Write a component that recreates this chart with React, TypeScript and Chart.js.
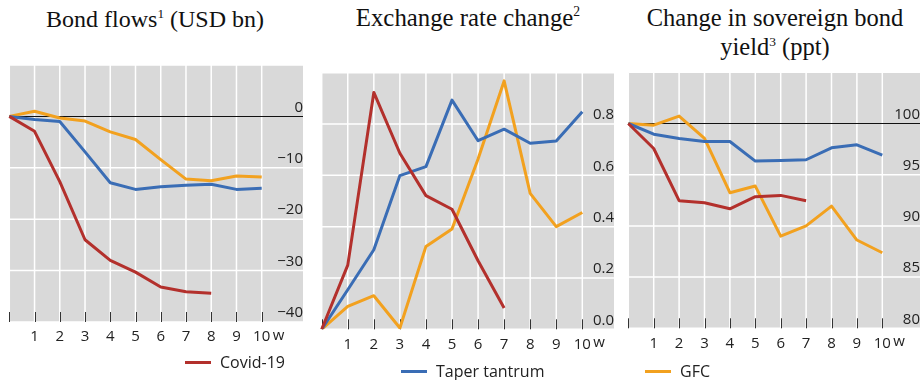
import React, { useEffect, useRef } from 'react';
import { Chart, registerables } from 'chart.js';

Chart.register(...registerables);

// ---------- data ----------
const weeks = ['0', '1', '2', '3', '4', '5', '6', '7', '8', '9', '10'];
const weekUnit = 'w';

const seriesNames = ['Covid-19', 'Taper tantrum', 'GFC'];

// Bond flows (USD bn)
const bondCovid = [0, -2.9, -12.7, -24.0, -28.0, -30.3, -33.2, -34.1, -34.4];
const bondTaper = [0, -0.6, -1.0, -6.9, -12.9, -14.2, -13.7, -13.4, -13.2, -14.2, -14.0];
const bondGfc = [0, 1.0, -0.3, -0.9, -3.0, -4.5, -8.4, -12.2, -12.5, -11.6, -11.8];

// Exchange rate change
const fxCovid = [0, 0.25, 0.923, 0.686, 0.521, 0.468, 0.267, 0.083];
const fxTaper = [0, 0.154, 0.31, 0.599, 0.634, 0.893, 0.735, 0.78, 0.725, 0.734, 0.848];
const fxGfc = [0, 0.089, 0.131, 0.005, 0.323, 0.391, 0.664, 0.968, 0.53, 0.4, 0.455];

// Change in sovereign bond yield
const yieldCovid = [100, 97.56, 92.46, 92.26, 91.67, 92.85, 92.98, 92.46];
const yieldTaper = [100, 98.96, 98.54, 98.24, 98.24, 96.33, 96.39, 96.46, 97.63, 97.92, 96.91];
const yieldGfc = [100, 99.84, 100.72, 98.54, 93.24, 93.89, 89.0, 90.0, 91.93, 88.62, 87.38];

// y axes: [min, max, step, reference line]
const bondAxis = [-40, 10, 10, 0];
const fxAxis = [0, 1, 0.2, null];
const yieldAxis = [80, 105, 5, 100];

// ---------- styles ----------
const COLORS = ['#b3302c', '#3a6db5', '#f2a11f'];
const TICK_FONT = '"Open Sans", "Noto Sans", sans-serif';
const TEXT = '#222222';

const panelPlugin = {
  id: 'panelBg',
  beforeDraw(chart: any, _args: any, opts: any) {
    const { ctx, chartArea } = chart;
    const xs = chart.scales.x;
    const ys = chart.scales.y;
    const left = chartArea.left;
    const top = chartArea.top;
    const bottom = chartArea.bottom;
    const right = ys.right;
    ctx.save();
    ctx.fillStyle = '#d9d9d9';
    ctx.fillRect(left, top, right - left, bottom - top);
    ctx.strokeStyle = '#ffffff';
    ctx.lineWidth = 1.5;
    ctx.beginPath();
    for (let i = 0; i < xs.ticks.length; i++) {
      const px = xs.getPixelForTick(i);
      ctx.moveTo(px, top);
      ctx.lineTo(px, bottom);
    }
    ys.ticks.forEach((t: any) => {
      if (opts.zero !== null && Math.abs(t.value - opts.zero) < 1e-9) return;
      const py = ys.getPixelForValue(t.value);
      ctx.moveTo(left, py);
      ctx.lineTo(right, py);
    });
    ctx.stroke();
    if (opts.zero !== null) {
      const pz = Math.round(ys.getPixelForValue(opts.zero)) + 0.5;
      ctx.strokeStyle = '#111111';
      ctx.lineWidth = 1.2;
      ctx.beginPath();
      ctx.moveTo(left, pz);
      ctx.lineTo(right, pz);
      ctx.stroke();
    }
    ctx.strokeStyle = '#333333';
    ctx.lineWidth = 1;
    ctx.beginPath();
    for (let i = 0; i < xs.ticks.length; i++) {
      const px = Math.round(xs.getPixelForTick(i)) + 0.5;
      ctx.moveTo(px, bottom - 10);
      ctx.lineTo(px, bottom);
    }
    ctx.stroke();
    ctx.restore();
  },
  afterDraw(chart: any, _args: any, opts: any) {
    const { ctx } = chart;
    const xs = chart.scales.x;
    const px = xs.getPixelForTick(xs.ticks.length - 1);
    ctx.save();
    ctx.font = `15px ${TICK_FONT}`;
    ctx.fillStyle = TEXT;
    ctx.textAlign = 'left';
    ctx.textBaseline = 'top';
    ctx.fillText(opts.unit, px + 11, xs.top + opts.xPad);
    ctx.restore();
  },
};

type PanelProps = {
  left: number;
  top: number;
  width: number;
  height: number;
  padLeft: number;
  padTop: number;
  padRight: number;
  yWidth: number;
  xHeight: number;
  yPad: number;
  xPad: number;
  axis: (number | null)[];
  decimals: number;
  series: number[][];
};

function fmt(v: number, decimals: number) {
  const s = Math.abs(v).toFixed(decimals);
  return v < -1e-9 ? '\u2212' + s : s;
}

function zeroPad(s: any) {
  s.paddingTop = 0;
  s.paddingBottom = 0;
  s.paddingLeft = 0;
  s.paddingRight = 0;
}

function Panel(p: PanelProps) {
  const ref = useRef<HTMLCanvasElement | null>(null);
  useEffect(() => {
    if (!ref.current) return;
    const [min, max, step, zero] = p.axis as number[];
    const chart = new Chart(ref.current, {
      type: 'line',
      data: {
        labels: weeks,
        datasets: p.series.map((s, i) => ({
          label: seriesNames[i],
          data: s,
          borderColor: COLORS[i],
          backgroundColor: COLORS[i],
          borderWidth: 3,
          pointRadius: 0,
          tension: 0,
          fill: false,
          borderJoinStyle: 'round' as const,
          borderCapStyle: 'butt' as const,
        })),
      },
      options: {
        animation: false,
        responsive: false,
        maintainAspectRatio: false,
        events: [],
        layout: { padding: { left: p.padLeft, top: p.padTop, right: p.padRight, bottom: 0 } },
        plugins: {
          legend: { display: false },
          tooltip: { enabled: false },
          panelBg: { zero: zero === undefined ? null : zero, unit: weekUnit, xPad: p.xPad },
        } as any,
        scales: {
          x: {
            type: 'category',
            offset: false,
            grid: { display: false, drawTicks: false },
            border: { display: false },
            ticks: {
              autoSkip: false,
              maxRotation: 0,
              padding: p.xPad,
              color: TEXT,
              font: { family: TICK_FONT, size: 15 },
              callback: (_v: any, i: number) => (i === 0 ? '' : weeks[i]),
            },
            afterFit: (s: any) => {
              s.height = p.xHeight;
              zeroPad(s);
            },
          },
          y: {
            type: 'linear',
            position: 'right',
            min,
            max,
            grid: { display: false, drawTicks: false },
            border: { display: false },
            ticks: {
              stepSize: step,
              crossAlign: 'far',
              padding: p.yPad,
              labelOffset: -9,
              color: TEXT,
              font: { family: TICK_FONT, size: 15 },
              callback: (v: any) => (Math.abs(Number(v) - max) < 1e-9 ? '' : fmt(Number(v), p.decimals)),
            },
            afterFit: (s: any) => {
              s.width = p.yWidth;
              zeroPad(s);
            },
          },
        },
      },
      plugins: [panelPlugin],
    });
    return () => chart.destroy();
  }, []);
  return (
    <canvas
      ref={ref}
      width={p.width}
      height={p.height}
      style={{ position: 'absolute', left: p.left, top: p.top, width: p.width, height: p.height }}
    />
  );
}

const titleStyle: React.CSSProperties = {
  position: 'absolute',
  width: 320,
  textAlign: 'center',
  fontFamily: '"Liberation Serif", "Times New Roman", serif',
  fontSize: 24,
  lineHeight: '29px',
  color: '#111',
  whiteSpace: 'nowrap',
};

const supStyle: React.CSSProperties = {
  fontSize: '0.55em',
  position: 'relative',
  top: '-0.7em',
};

function LegendItem(props: { x: number; y: number; color: string; label: string }) {
  return (
    <div
      style={{
        position: 'absolute',
        left: props.x,
        top: props.y - 12,
        height: 24,
        display: 'flex',
        alignItems: 'center',
        fontFamily: TICK_FONT,
        fontSize: 16,
        color: TEXT,
        whiteSpace: 'nowrap',
      }}
    >
      <span style={{ display: 'inline-block', width: 26, height: 3, background: props.color, marginRight: 9 }} />
      <span>{props.label}</span>
    </div>
  );
}

export default function App() {
  return (
    <div style={{ position: 'absolute', left: 0, top: 0, width: 923, height: 380, background: '#fff', overflow: 'hidden' }}>
      <div style={{ ...titleStyle, left: 155 - 160, top: 5 }}>
        Bond flows<span style={supStyle}>1</span> (USD bn)
      </div>
      <div style={{ ...titleStyle, left: 468 - 160, top: 3, fontSize: 24.8 }}>
        Exchange rate change<span style={supStyle}>2</span>
      </div>
      <div style={{ ...titleStyle, left: 775 - 160, top: 3, fontSize: 24.5 }}>
        Change in sovereign bond
        <br />
        yield<span style={supStyle}>3</span> (ppt)
      </div>

      <Panel
        left={0}
        top={55}
        width={312}
        height={300}
        padLeft={9.3}
        padTop={10}
        padRight={9}
        yWidth={41.3}
        xHeight={33}
        yPad={12}
        xPad={6}
        axis={bondAxis}
        decimals={0}
        series={[bondCovid, bondTaper, bondGfc]}
      />
      <Panel
        left={312}
        top={55}
        width={308}
        height={300}
        padLeft={9.7}
        padTop={17.7}
        padRight={6}
        yWidth={31.7}
        xHeight={25.7}
        yPad={6.5}
        xPad={6}
        axis={fxAxis}
        decimals={1}
        series={[fxCovid, fxTaper, fxGfc]}
      />
      <Panel
        left={620}
        top={55}
        width={303}
        height={300}
        padLeft={8.3}
        padTop={17.3}
        padRight={3}
        yWidth={37.7}
        xHeight={26.7}
        yPad={9}
        xPad={6}
        axis={yieldAxis}
        decimals={0}
        series={[yieldCovid, yieldTaper, yieldGfc]}
      />

      <LegendItem x={185} y={362} color={COLORS[0]} label={seriesNames[0]} />
      <LegendItem x={401} y={371} color={COLORS[1]} label={seriesNames[1]} />
      <LegendItem x={645} y={371} color={COLORS[2]} label={seriesNames[2]} />
    </div>
  );
}
